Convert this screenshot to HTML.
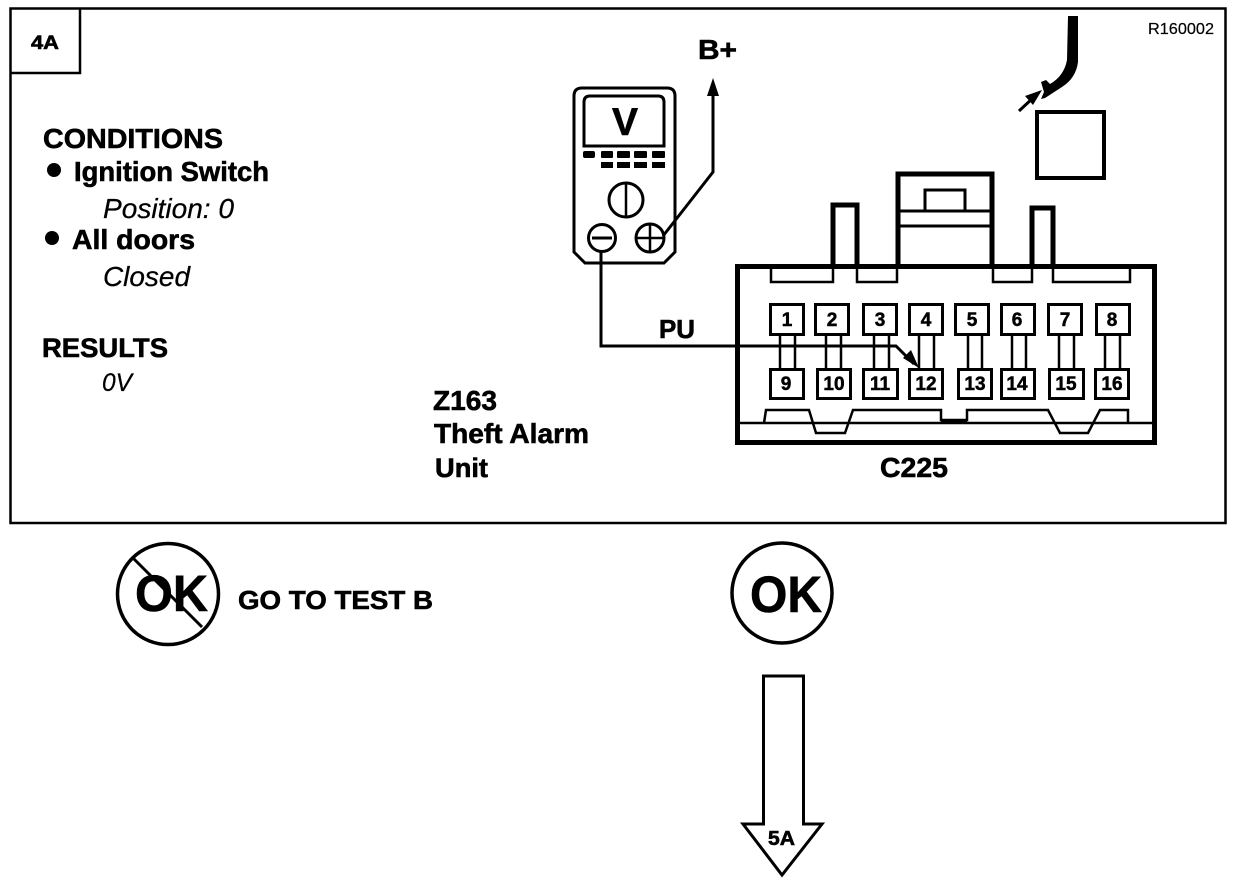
<!DOCTYPE html>
<html>
<head>
<meta charset="utf-8">
<style>
html,body{margin:0;padding:0;background:#fff;width:1248px;height:882px;overflow:hidden}
svg{display:block}
text{font-family:"Liberation Sans",sans-serif;fill:#000}
.b{font-weight:bold;stroke:#000;stroke-width:.6}
.i{font-style:italic;stroke:#000;stroke-width:.25}
.n{font-weight:bold;font-size:19px;text-anchor:middle;stroke:#000;stroke-width:.5}
</style>
</head>
<body>
<svg width="1248" height="882" viewBox="0 0 1248 882" xmlns="http://www.w3.org/2000/svg">
<g fill="none" stroke="#000" stroke-linejoin="miter">
  <!-- frame -->
  <rect x="10.5" y="8.5" width="1215" height="514.5" stroke-width="2.5"/>
  <path d="M80 9V73H11" stroke-width="2.5"/>

  <!-- meter -->
  <path d="M582 88H667Q675 88 675 96V252L664 263H585L574 252V96Q574 88 582 88Z" stroke-width="3"/>
  <path d="M584 146V102Q584 96 590 96H658Q664 96 664 102V146Z" stroke-width="3"/>
  <circle cx="626" cy="200" r="17" stroke-width="3"/>
  <path d="M626 183V217" stroke-width="2.5"/>
  <circle cx="602" cy="238" r="13.5" stroke-width="3"/>
  <path d="M592 238H612" stroke-width="3"/>
  <circle cx="650" cy="238" r="14" stroke-width="3"/>
  <path d="M636 238H664M650 224V252" stroke-width="2.5"/>
  <path d="M663 236L713 172V92" stroke-width="3"/>

  <!-- wire -->
  <path d="M601 252V346H896L914 364" stroke-width="3"/>

  <!-- square -->
  <rect x="1037" y="112" width="67" height="66" stroke-width="4"/>
  <path d="M1019 111L1034 97" stroke-width="3"/>

  <!-- connector housing -->
  <path d="M833 266V205H857V266M898 266V174H992V266M1032 266V208H1053V266" stroke-width="5"/>
  <rect x="737.5" y="266.5" width="417" height="176" stroke-width="5"/>
  <path d="M899 211H991M899 226H991" stroke-width="3"/>
  <path d="M925 211V190H965V211" stroke-width="3"/>
  <path d="M771 268V282H833V268M857 268V282H897V268M993 268V282H1032V268M1053 268V282H1130V268" stroke-width="2.5"/>

  <!-- bottom detail -->
  <path d="M738 423H1154" stroke-width="2.5"/>
  <path d="M764 423L766 410H809L816 433H845L853 410H941V420H967V410H1048L1060 433H1088L1100 410H1128V423" stroke-width="2.5"/>
  <path d="M941 421H967" stroke-width="4"/>

  <!-- pins -->
  <path d="M780 335V369M795 335V369M826 335V369M841 335V369M874 335V369M889 335V369M919 335V369M934 335V369M968 335V369M982 335V369M1012 335V369M1026 335V369M1059 335V369M1074 335V369M1105 335V369M1120 335V369" stroke-width="2.5"/>
  <g stroke-width="3" fill="#fff">
    <rect x="770.5" y="304.5" width="33" height="30"/>
    <rect x="815.5" y="304.5" width="33" height="30"/>
    <rect x="863.5" y="304.5" width="33" height="30"/>
    <rect x="909.5" y="304.5" width="33" height="30"/>
    <rect x="955.5" y="304.5" width="33" height="30"/>
    <rect x="1001.5" y="304.5" width="33" height="30"/>
    <rect x="1048.5" y="304.5" width="33" height="30"/>
    <rect x="1096.5" y="304.5" width="33" height="30"/>
    <rect x="770.5" y="369.5" width="33" height="29"/>
    <rect x="817.5" y="369.5" width="33" height="29"/>
    <rect x="863.5" y="369.5" width="34" height="29"/>
    <rect x="909.5" y="369.5" width="33" height="29"/>
    <rect x="958.5" y="369.5" width="33" height="29"/>
    <rect x="1001.5" y="369.5" width="33" height="29"/>
    <rect x="1049.5" y="369.5" width="34" height="29"/>
    <rect x="1095.5" y="369.5" width="33" height="29"/>
  </g>

  <!-- OK circles -->
  <circle cx="168" cy="594" r="50.5" stroke-width="3.5"/>
  <circle cx="782" cy="593" r="50" stroke-width="3.5"/>

  <!-- big arrow -->
  <path d="M763.5 676H803.5V824H822L782 875L743 824H763.5Z" stroke-width="3"/>
</g>

<!-- filled bits -->
<path d="M713 78L707 96H719Z" fill="#000"/>
<path d="M1068 16H1078V62Q1076 78 1062 87L1045 98L1041 99L1044 92L1041 82L1046 80L1050 84Q1064 76 1067 60Z" fill="#000"/>
<path d="M1042 90L1025 96L1033 105Z" fill="#000"/>
<path d="M919 368L903 358L911 350Z" fill="#000"/>
<circle cx="54" cy="170" r="7" fill="#000"/>
<circle cx="52" cy="238" r="7" fill="#000"/>
<g fill="#000">
  <rect x="583" y="151" width="12" height="7" rx="2"/>
  <rect x="601" y="151" width="12" height="7" rx="1"/>
  <rect x="617" y="151" width="13" height="7" rx="1"/>
  <rect x="634" y="151" width="13" height="7" rx="1"/>
  <rect x="652" y="151" width="13" height="7" rx="1"/>
  <rect x="601" y="162" width="12" height="6"/>
  <rect x="617" y="162" width="13" height="6"/>
  <rect x="634" y="162" width="13" height="6"/>
  <rect x="652" y="162" width="13" height="6"/>
</g>

<!-- labels -->
<text class="b" x="31" y="49" font-size="19" textLength="28" lengthAdjust="spacingAndGlyphs">4A</text>
<text class="b" x="43" y="148" font-size="28" textLength="180" lengthAdjust="spacingAndGlyphs">CONDITIONS</text>
<text class="b" x="74" y="181" font-size="27.5" textLength="195" lengthAdjust="spacingAndGlyphs">Ignition Switch</text>
<text class="i" x="103" y="218" font-size="28" textLength="131" lengthAdjust="spacingAndGlyphs">Position: 0</text>
<text class="b" x="72" y="249" font-size="28" textLength="123" lengthAdjust="spacingAndGlyphs">All doors</text>
<text class="i" x="103" y="286" font-size="28" textLength="87" lengthAdjust="spacingAndGlyphs">Closed</text>
<text class="b" x="42" y="357" font-size="27" textLength="126" lengthAdjust="spacingAndGlyphs">RESULTS</text>
<text class="i" x="102" y="391" font-size="25" textLength="30" lengthAdjust="spacingAndGlyphs">0V</text>
<text class="b" x="433" y="410" font-size="28" textLength="64" lengthAdjust="spacingAndGlyphs">Z163</text>
<text class="b" x="434" y="443" font-size="28" textLength="155" lengthAdjust="spacingAndGlyphs">Theft Alarm</text>
<text class="b" x="435" y="477" font-size="27" textLength="53" lengthAdjust="spacingAndGlyphs">Unit</text>
<text class="b" x="659" y="338" font-size="26" textLength="36" lengthAdjust="spacingAndGlyphs">PU</text>
<text class="b" x="880" y="477" font-size="28" textLength="68" lengthAdjust="spacingAndGlyphs">C225</text>
<text x="1148" y="34" font-size="16" textLength="66" lengthAdjust="spacingAndGlyphs" stroke="#000" stroke-width=".2">R160002</text>
<text class="b" x="698" y="59" font-size="28" textLength="39" lengthAdjust="spacingAndGlyphs">B+</text>
<text class="b" x="612" y="135" font-size="39" textLength="26" lengthAdjust="spacingAndGlyphs">V</text>
<text class="b" x="238" y="609" font-size="26" textLength="195" lengthAdjust="spacingAndGlyphs">GO TO TEST B</text>
<text class="b" x="135" y="611" font-size="51" textLength="73" lengthAdjust="spacingAndGlyphs" stroke-width="1">OK</text>
<text class="b" x="750" y="612" font-size="51" textLength="72" lengthAdjust="spacingAndGlyphs" stroke-width="1">OK</text>
<text class="b" x="768" y="845" font-size="20" textLength="27" lengthAdjust="spacingAndGlyphs">5A</text>

<path d="M133 558L202 627" fill="none" stroke="#000" stroke-width="3"/>

<!-- pin numbers -->
<text class="n" x="787" y="326">1</text>
<text class="n" x="832" y="326">2</text>
<text class="n" x="880" y="326">3</text>
<text class="n" x="926" y="326">4</text>
<text class="n" x="972" y="326">5</text>
<text class="n" x="1017" y="326">6</text>
<text class="n" x="1065" y="326">7</text>
<text class="n" x="1112" y="326">8</text>
<text class="n" x="786" y="390">9</text>
<text class="n" x="834" y="390">10</text>
<text class="n" x="880" y="390">11</text>
<text class="n" x="926" y="390">12</text>
<text class="n" x="975" y="390">13</text>
<text class="n" x="1017" y="390">14</text>
<text class="n" x="1066" y="390">15</text>
<text class="n" x="1112" y="390">16</text>
</svg>
</body>
</html>
